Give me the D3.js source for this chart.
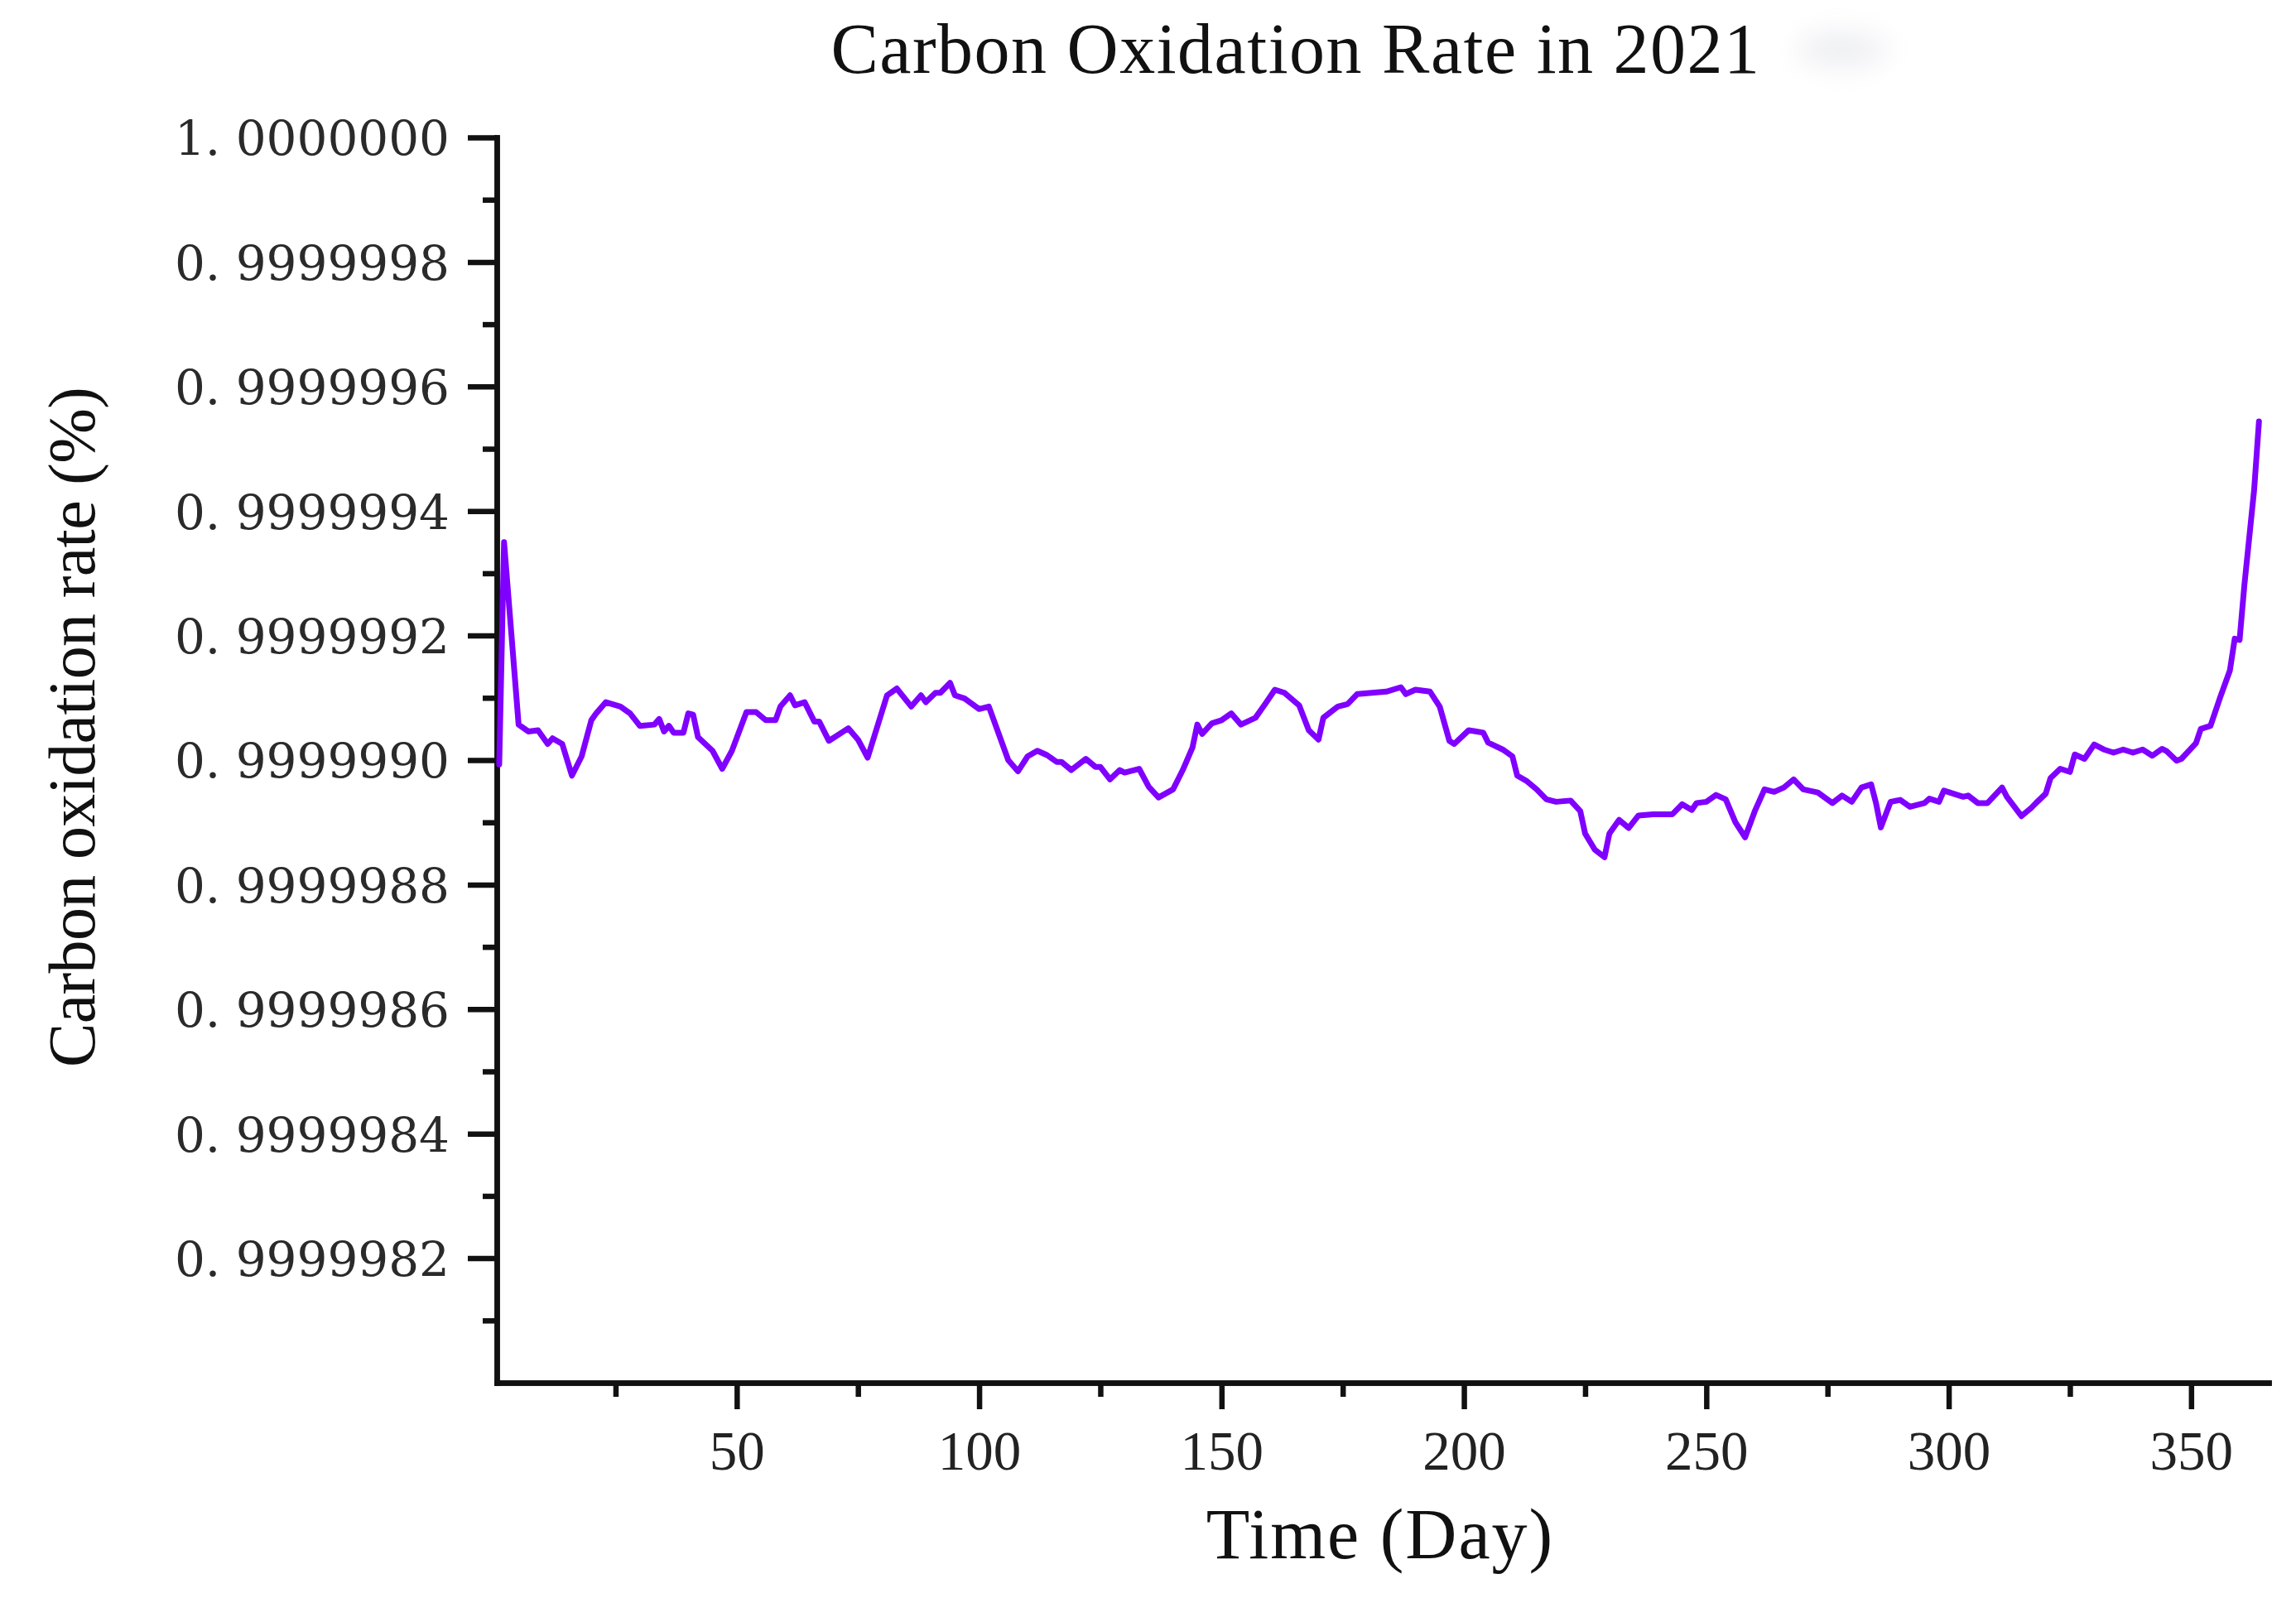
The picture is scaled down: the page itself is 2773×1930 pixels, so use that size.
<!DOCTYPE html>
<html>
<head>
<meta charset="utf-8">
<script src="https://cdn.jsdelivr.net/npm/d3@7"></script>
<style>
  html, body { margin: 0; padding: 0; background: #fff; }
</style>
</head>
<body>
<svg id="chart"></svg>
<script>
// 读图得到的数据 (day, carbon oxidation rate)
const days = [
    1, 2, 5, 7, 9, 11, 12, 14, 16, 18, 20, 21, 23, 26, 28, 30, 33, 34, 35, 36,
    37, 39, 40, 41, 42, 45, 47, 49, 52, 54, 56, 58, 59, 61, 62, 64, 66, 67, 69, 73,
    75, 77, 81, 83, 86, 88, 89, 91, 92, 94, 95, 97, 100, 102, 106, 108, 110, 112, 114, 116,
    117, 119, 122, 124, 125, 127, 129, 130, 133, 135, 137, 140, 142, 144, 145, 146, 148, 150, 152, 154,
    157, 159, 161, 163, 166, 168, 170, 171, 174, 176, 178, 181, 184, 187, 188, 190, 193, 195, 197, 198,
    201, 204, 205, 208, 210, 211, 213, 215, 217, 219, 222, 224, 225, 227, 229, 230, 232, 234, 236, 239,
    243, 245, 247, 248, 250, 252, 254, 256, 258, 260, 262, 264, 266, 268, 270, 273, 276, 278, 280, 282,
    284, 285, 286, 288, 290, 292, 295, 296, 298, 299, 303, 304, 306, 308, 311, 312, 315, 317, 318, 320,
    321, 323, 325, 326, 328, 330, 332, 334, 336, 338, 340, 342, 344, 345, 347, 348, 351, 352, 354, 355,
    356, 358, 359, 360, 361, 362, 363, 364
]

const rates = [
    0.999998993, 0.999999350, 0.999999057, 0.999999046, 0.999999048, 0.999999026, 0.999999035, 0.999999026, 0.999998975, 0.999999006,
    0.999999064, 0.999999075, 0.999999093, 0.999999086, 0.999999075, 0.999999055, 0.999999057, 0.999999066, 0.999999046, 0.999999055,
    0.999999044, 0.999999044, 0.999999075, 0.999999073, 0.999999037, 0.999999015, 0.999998986, 0.999999015, 0.999999077, 0.999999077,
    0.999999064, 0.999999064, 0.999999086, 0.999999104, 0.999999088, 0.999999093, 0.999999062, 0.999999062, 0.999999031, 0.999999051,
    0.999999033, 0.999999004, 0.999999104, 0.999999115, 0.999999086, 0.999999104, 0.999999093, 0.999999108, 0.999999108, 0.999999124,
    0.999999104, 0.999999099, 0.999999082, 0.999999086, 0.999999000, 0.999998982, 0.999999006, 0.999999015, 0.999999008, 0.999998997,
    0.999998997, 0.999998984, 0.999999002, 0.999998989, 0.999998989, 0.999998969, 0.999998984, 0.999998980, 0.999998986, 0.999998957,
    0.999998940, 0.999998953, 0.999998984, 0.999999020, 0.999999057, 0.999999042, 0.999999059, 0.999999064, 0.999999075, 0.999999057,
    0.999999068, 0.999999090, 0.999999113, 0.999999108, 0.999999088, 0.999999048, 0.999999033, 0.999999068, 0.999999086, 0.999999090,
    0.999999106, 0.999999108, 0.999999110, 0.999999117, 0.999999106, 0.999999113, 0.999999110, 0.999999086, 0.999999031, 0.999999026,
    0.999999048, 0.999999044, 0.999999028, 0.999999017, 0.999999006, 0.999998975, 0.999998966, 0.999998953, 0.999998937, 0.999998933,
    0.999998935, 0.999998918, 0.999998882, 0.999998856, 0.999998844, 0.999998882, 0.999998904, 0.999998891, 0.999998911, 0.999998913,
    0.999998913, 0.999998929, 0.999998920, 0.999998931, 0.999998933, 0.999998944, 0.999998937, 0.999998900, 0.999998876, 0.999998918,
    0.999998953, 0.999998949, 0.999998956, 0.999998969, 0.999998953, 0.999998948, 0.999998931, 0.999998943, 0.999998933, 0.999998956,
    0.999998961, 0.999998931, 0.999998892, 0.999998933, 0.999998936, 0.999998925, 0.999998931, 0.999998938, 0.999998933, 0.999998951,
    0.999998941, 0.999998943, 0.999998931, 0.999998931, 0.999998956, 0.999998941, 0.999998910, 0.999998923, 0.999998931, 0.999998946,
    0.999998971, 0.999998986, 0.999998981, 0.999999009, 0.999999002, 0.999999025, 0.999999017, 0.999999012, 0.999999017, 0.999999012,
    0.999999017, 0.999999007, 0.999999018, 0.999999014, 0.999998999, 0.999999002, 0.999999027, 0.999999050, 0.999999055, 0.999999078,
    0.999999101, 0.999999144, 0.999999195, 0.999999193, 0.999999282, 0.999999358, 0.999999434, 0.999999544
]

// 坐标轴刻度
const xTicks = [50, 100, 150, 200, 250, 300, 350]
const xMinorTicks = [25, 75, 125, 175, 225, 275, 325]
const yTicks = [1.0, 0.9999998, 0.9999996, 0.9999994, 0.9999992, 0.999999, 0.9999988, 0.9999986, 0.9999984, 0.9999982]
const yMinorTicks = [0.9999999, 0.9999997, 0.9999995, 0.9999993, 0.9999991, 0.9999989, 0.9999987, 0.9999985, 0.9999983, 0.9999981]
const yTickLabels = ['1. 0000000', '0. 9999998', '0. 9999996', '0. 9999994', '0. 9999992',
                     '0. 9999990', '0. 9999988', '0. 9999986', '0. 9999984', '0. 9999982']

const title = 'Carbon Oxidation Rate in 2021'
const xTitle = 'Time (Day)'
const yTitle = 'Carbon oxidation rate (%)'

const width = 2773
const height = 1930
const plot = { left: 600, right: 2740, top: 166, bottom: 1670 }
const serif = '"Liberation Serif", "Times New Roman", serif'

const svg = d3.select('#chart').attr('width', width).attr('height', height)

svg.append('rect').attr('width', width).attr('height', height).attr('fill', '#fff')

const x = d3.scaleLinear().domain([0.5, 366]).range([plot.left, plot.right])
const y = d3.scaleLinear().domain([0.999998, 1.0]).range([plot.bottom, plot.top])

const drawAxes = () => {
    // 次刻度
    svg.append('g')
        .attr('transform', `translate(0, ${plot.bottom})`)
        .call(d3.axisBottom(x).tickValues(xMinorTicks).tickSize(17).tickSizeOuter(0).tickFormat(''))
    svg.append('g')
        .attr('transform', `translate(${plot.left}, 0)`)
        .call(d3.axisLeft(y).tickValues(yMinorTicks).tickSize(17).tickSizeOuter(0).tickFormat(''))

    // 主刻度
    const xAxis = svg.append('g')
        .attr('transform', `translate(0, ${plot.bottom})`)
        .call(d3.axisBottom(x).tickValues(xTicks).tickSize(32).tickSizeOuter(0))
    xAxis.selectAll('text')
        .attr('y', 105).attr('dy', null)
        .attr('font-family', serif).attr('font-size', 67).attr('fill', '#222')

    const yAxis = svg.append('g')
        .attr('transform', `translate(${plot.left}, 0)`)
        .call(d3.axisLeft(y).tickValues(yTicks).tickSize(35).tickSizeOuter(0)
            .tickFormat((d, i) => yTickLabels[i]))
    yAxis.selectAll('text')
        .attr('x', -57).attr('dy', '0.36em')
        .attr('font-family', '"DejaVu Serif", serif').attr('font-size', 58).attr('fill', '#2a2a2a')
        .style('white-space', 'pre')

    svg.selectAll('.domain, .tick line')
        .attr('stroke', '#111').attr('stroke-width', 6.5)
    svg.selectAll('.domain').attr('stroke-linecap', 'square')
}

const drawLine = () => {
    const points = days.map((d, i) => ({ day: d, rate: rates[i] }))
    const line = d3.line().x(d => x(d.day)).y(d => y(d.rate))
    svg.append('path')
        .datum(points)
        .attr('d', line)
        .attr('fill', 'none')
        .attr('stroke', '#8000ff')
        .attr('stroke-width', 7)
        .attr('stroke-linejoin', 'round')
        .attr('stroke-linecap', 'round')
}

const drawTexts = () => {
    svg.append('text')
        .text(title)
        .attr('x', 1565).attr('y', 88)
        .attr('text-anchor', 'middle')
        .attr('font-family', serif).attr('font-size', 86)
        .attr('letter-spacing', 1.5)
        .attr('fill', '#111')

    svg.append('text')
        .text(xTitle)
        .attr('x', 1667).attr('y', 1882)
        .attr('text-anchor', 'middle')
        .attr('font-family', serif).attr('font-size', 86)
        .attr('letter-spacing', 2)
        .attr('fill', '#111')

    svg.append('text')
        .text(yTitle)
        .attr('transform', 'translate(114, 878) rotate(-90)')
        .attr('text-anchor', 'middle')
        .attr('font-family', serif).attr('font-size', 80)
        .attr('textLength', 822)
        .attr('fill', '#111')

    // 标题右侧的模糊痕迹
    const defs = svg.append('defs')
    defs.append('filter').attr('id', 'smudge')
        .attr('x', '-100%').attr('y', '-100%').attr('width', '300%').attr('height', '300%')
        .append('feGaussianBlur').attr('stdDeviation', 16)
    svg.append('ellipse')
        .attr('cx', 2225).attr('cy', 60).attr('rx', 55).attr('ry', 22)
        .attr('fill', '#dcdde4').attr('opacity', 0.45)
        .attr('filter', 'url(#smudge)')
}

drawAxes()
drawLine()
drawTexts()
</script>
</body>
</html>
